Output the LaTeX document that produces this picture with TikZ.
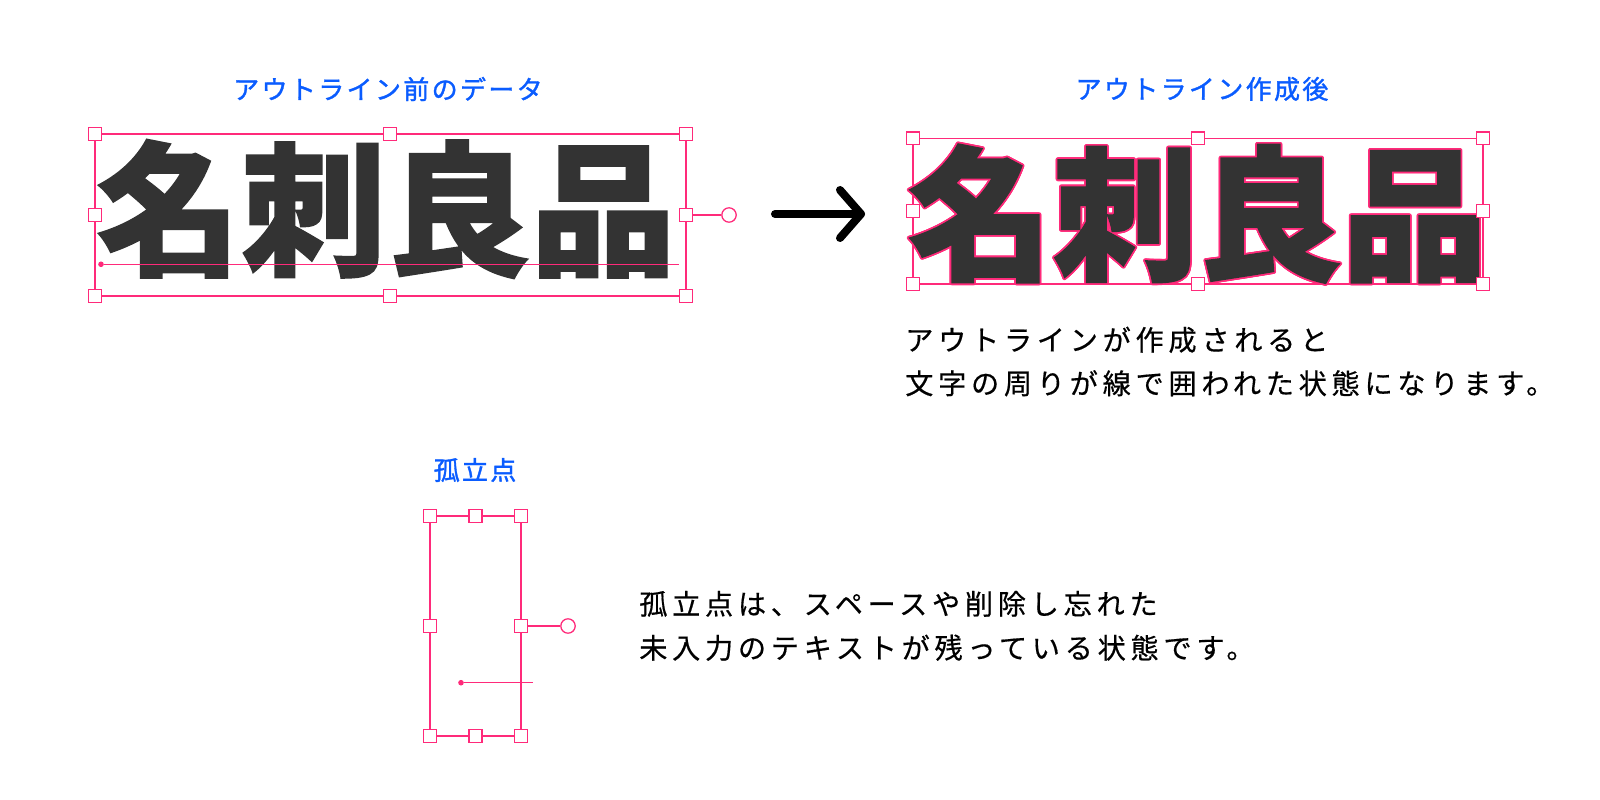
\documentclass[tikz,border=0pt]{standalone}
\usepackage{fontspec}
\newfontfamily\jp{Noto Sans CJK JP}[BoldFeatures={FakeBold=1.2}]
\newfontfamily\jpttl{Noto Sans CJK JP}[LetterSpace=9,FakeBold=1.3]
\newfontfamily\jpdesc{Noto Sans CJK JP}[LetterSpace=17,FakeBold=0.5]
\definecolor{selpink}{HTML}{FF2A7A}
\definecolor{ttlblue}{HTML}{0A5CFF}
\definecolor{glyph}{HTML}{333333}
\tikzset{
	selline/.style={draw=selpink,line width=0.9pt},
	handle/.style={rectangle,fill=white,draw=selpink,line width=0.9pt,inner sep=0pt,minimum size=0.32cm},
	rothandle/.style={circle,fill=white,draw=selpink,line width=0.9pt,inner sep=0pt,minimum size=0.36cm},
	basedot/.style={circle,fill=selpink,inner sep=0pt,minimum size=0.14cm},
	baseln/.style={draw=selpink,line width=0.7pt},
	bigtxt/.style={inner sep=0pt,anchor=base,text=glyph,font=\jp\bfseries\fontsize{103pt}{110pt}\selectfont},
	ttl/.style={inner sep=0pt,text=ttlblue,font=\jpttl\fontsize{18.5pt}{20pt}\selectfont},
	desc/.style={inner sep=0pt,anchor=base west,text=black,font=\jpdesc\fontsize{20pt}{24pt}\selectfont},
	bigarrow/.style={line width=5.7pt,line cap=round,line join=round},
	}
\begin{document}
\begin{tikzpicture}[x=0.025cm,y=-0.025cm]
\useasboundingbox (0,0) rectangle (1600,800);

% before outlining
\node[ttl] (ttlL) at (388,89) {アウトライン前のデータ};
\draw[selline] (95,134) rectangle (686,296);
\node[bigtxt] (txtL) at (386,264.3) {名刺良品};
\node[basedot] (lbd) at (101,264.3) {};
\coordinate (lbe) at (679,264.3);
\draw[baseln] (lbd) -- (lbe);
\foreach \x/\y [count=\i] in {95/134,390/134,686/134,95/215,686/215,95/296,390/296,686/296}
  \node[handle] (lh\i) at (\x,\y) {};
\node[rothandle] (lrot) at (729,215) {};
\draw[selline] (lh5) -- (lrot);

% arrow
\coordinate (arS) at (775,214);
\coordinate (arE) at (861,214);
\draw[bigarrow] (arS) -- (arE);
\draw[bigarrow] ([shift={(-21,-24)}]arE) -- (arE) -- ([shift={(-21,24)}]arE);

% after outlining
\node[ttl] (ttlR) at (1202,89) {アウトライン作成後};
\draw[selline] (913,138.3) rectangle (1483,284);
\coordinate (rbase) at (1197.5,269);
\foreach \a in {0,22.5,...,337.5}
  \node[bigtxt,text=selpink] at ([shift={(\a:1.7)}]rbase) {名刺良品};
\node[bigtxt] (txtR) at (rbase) {名刺良品};
\foreach \x/\y [count=\i] in {913/138.3,1198/138.3,1483/138.3,913/211,1483/211,913/284,1198/284,1483/284}
  \node[handle] (rh\i) at (\x,\y) {};
\node[desc] (descR1) at (905,350.5) {アウトラインが作成されると};
\node[desc] (descR2) at (905,394) {文字の周りが線で囲われた状態になります。};

% stray point
\node[ttl] (ttlB) at (475,470) {孤立点};
\draw[selline] (430,516) rectangle (521,736);
\node[basedot] (bbd) at (461,682.7) {};
\coordinate (bbe) at (533,682.7);
\draw[baseln] (bbd) -- (bbe);
\foreach \x/\y [count=\i] in {430/516,475.5/516,521/516,430/626,521/626,430/736,475.5/736,521/736}
  \node[handle] (bh\i) at (\x,\y) {};
\node[rothandle] (brot) at (568,626) {};
\draw[selline] (bh5) -- (brot);
\node[desc] (descB1) at (639,614.5) {孤立点は、スペースや削除し忘れた};
\node[desc] (descB2) at (639,658.5) {未入力のテキストが残っている状態です。};
\end{tikzpicture}
\end{document}
